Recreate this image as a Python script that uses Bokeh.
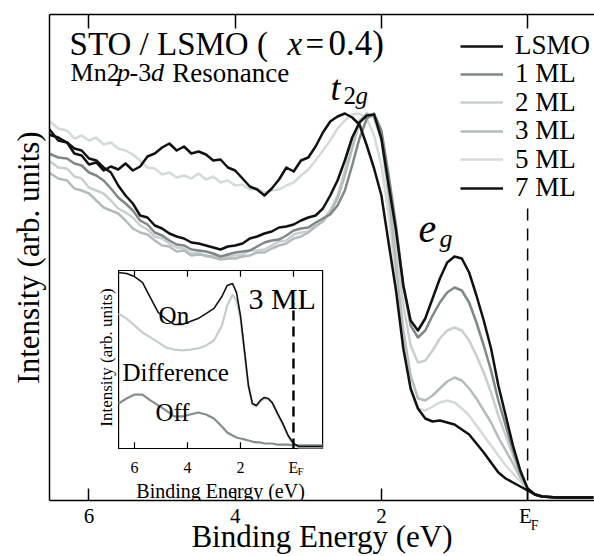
from bokeh.plotting import figure
from bokeh.models import Range1d, FixedTicker, LinearAxis, Label, Legend, LegendItem
from bokeh.core.properties import value
from bokeh.embed import file_html
from bokeh.resources import INLINE

# ---------------- data (main panel) ----------------
energy = [6.55, 6.42, 6.3, 6.2, 6.1, 6.0, 5.9, 5.8, 5.7, 5.6,
          5.5, 5.4, 5.3, 5.2, 5.1, 5.0, 4.9, 4.8, 4.7, 4.6,
          4.5, 4.4, 4.3, 4.2, 4.1, 4.0, 3.9, 3.8, 3.7, 3.6,
          3.5, 3.4, 3.3, 3.2, 3.1, 3.0, 2.9, 2.8, 2.7,
          2.6, 2.5, 2.4, 2.3, 2.2, 2.1, 2.0, 1.9, 1.8, 1.7,
          1.6, 1.5, 1.4, 1.3, 1.2, 1.1, 1.0, 0.9, 0.8, 0.7,
          0.6, 0.5, 0.4, 0.3, 0.2, 0.1, 0.0, -0.1, -0.2, -0.4,
          -0.6, -0.9]

lsmo = [3.66, 3.63, 3.58, 3.52, 3.50, 3.42, 3.40, 3.33, 3.28, 3.15,
        3.05, 2.97, 2.85, 2.83, 2.75, 2.72, 2.67, 2.64, 2.62, 2.58,
        2.57, 2.55, 2.53, 2.51, 2.54, 2.55, 2.57, 2.62, 2.64, 2.67,
        2.69, 2.73, 2.74, 2.76, 2.80, 2.83, 2.85, 2.92, 3.05,
        3.20, 3.40, 3.63, 3.78, 3.85, 3.86, 3.62, 3.15, 2.70, 2.15,
        1.80, 1.70, 1.82, 2.02, 2.22, 2.38, 2.44, 2.42, 2.28, 2.05,
        1.80, 1.52, 1.15, 0.85, 0.55, 0.30, 0.12, 0.06, 0.04, 0.03,
        0.03, 0.03]
ml1 = [3.47, 3.43, 3.42, 3.37, 3.35, 3.28, 3.25, 3.20, 3.12, 3.03,
       2.97, 2.90, 2.80, 2.76, 2.68, 2.65, 2.60, 2.56, 2.55, 2.51,
       2.50, 2.49, 2.47, 2.44, 2.46, 2.48, 2.49, 2.50, 2.54, 2.58,
       2.60, 2.61, 2.65, 2.70, 2.72, 2.73, 2.78, 2.82, 2.86,
       2.95, 3.10, 3.35, 3.62, 3.82, 3.87, 3.70, 3.25, 2.75, 2.15,
       1.75, 1.63, 1.70, 1.85, 1.98, 2.08, 2.13, 2.10, 1.98, 1.78,
       1.55, 1.30, 1.00, 0.75, 0.50, 0.28, 0.12, 0.06, 0.04, 0.03,
       0.03, 0.03]
ml2 = [3.40, 3.33, 3.32, 3.24, 3.22, 3.13, 3.10, 3.07, 3.00, 2.92,
       2.88, 2.83, 2.75, 2.71, 2.64, 2.62, 2.57, 2.53, 2.52, 2.47,
       2.48, 2.44, 2.45, 2.42, 2.44, 2.45, 2.46, 2.50, 2.50, 2.51,
       2.55, 2.59, 2.60, 2.66, 2.68, 2.69, 2.75, 2.81, 2.90,
       3.05, 3.30, 3.58, 3.80, 3.87, 3.84, 3.65, 3.15, 2.55, 1.95,
       1.55, 1.38, 1.40, 1.50, 1.62, 1.70, 1.73, 1.70, 1.60, 1.45,
       1.28, 1.08, 0.85, 0.65, 0.45, 0.26, 0.12, 0.06, 0.04, 0.03,
       0.03, 0.03]
ml3 = [3.28, 3.22, 3.20, 3.12, 3.10, 3.07, 3.00, 2.93, 2.90, 2.87,
       2.80, 2.72, 2.68, 2.66, 2.60, 2.55, 2.54, 2.49, 2.50, 2.45,
       2.46, 2.45, 2.43, 2.41, 2.42, 2.42, 2.44, 2.45, 2.48, 2.48,
       2.52, 2.55, 2.57, 2.62, 2.64, 2.68, 2.74, 2.79, 2.88,
       3.02, 3.25, 3.52, 3.78, 3.87, 3.83, 3.60, 3.05, 2.35, 1.70,
       1.25, 1.02, 1.00, 1.05, 1.12, 1.19, 1.23, 1.20, 1.12, 1.02,
       0.90, 0.78, 0.63, 0.50, 0.37, 0.23, 0.12, 0.06, 0.04, 0.03,
       0.03, 0.03]
ml5 = [3.80, 3.72, 3.70, 3.62, 3.65, 3.60, 3.63, 3.56, 3.58, 3.52,
       3.50, 3.46, 3.40, 3.33, 3.32, 3.26, 3.28, 3.23, 3.25, 3.22,
       3.27, 3.21, 3.24, 3.18, 3.20, 3.15, 3.16, 3.11, 3.12, 3.08,
       3.10, 3.11, 3.15, 3.18, 3.25, 3.31, 3.40, 3.50, 3.60,
       3.72, 3.80, 3.86, 3.87, 3.82, 3.65, 3.35, 2.85, 2.20, 1.55,
       1.10, 0.92, 0.90, 0.94, 0.98, 1.00, 0.98, 0.92, 0.85, 0.75,
       0.65, 0.55, 0.45, 0.35, 0.27, 0.19, 0.11, 0.06, 0.04, 0.03,
       0.03, 0.03]
ml7 = [3.72, 3.60, 3.58, 3.47, 3.45, 3.36, 3.38, 3.30, 3.34, 3.31,
       3.37, 3.30, 3.34, 3.44, 3.47, 3.53, 3.57, 3.50, 3.54, 3.47,
       3.49, 3.46, 3.40, 3.41, 3.33, 3.30, 3.22, 3.14, 3.11, 3.05,
       3.12, 3.21, 3.33, 3.29, 3.40, 3.43, 3.54, 3.68, 3.79,
       3.84, 3.87, 3.83, 3.76, 3.55, 3.32, 3.05, 2.57, 2.10, 1.52,
       1.12, 0.92, 0.82, 0.79, 0.80, 0.78, 0.76, 0.71, 0.66, 0.57,
       0.48, 0.38, 0.28, 0.22, 0.18, 0.14, 0.10, 0.06, 0.04, 0.03,
       0.03, 0.03]

series_labels = ["LSMO", "1 ML", "2 ML", "3 ML", "5 ML", "7 ML"]
series_values = [lsmo, ml1, ml2, ml3, ml5, ml7]
series_colors = ["#111111", "#7e8888", "#c9cfcf", "#b3bcbc", "#d4dada", "#111111"]
draw_order = [4, 2, 3, 1, 0, 5]

x_ticks = [6, 4, 2, 0]
x_tick_labels = {6: "6", 4: "4", 2: "2", 0: "E\u2009"}
fermi_tick = [0]
fermi_sub = {0: "\u2002\u2002F"}
fermi_x = [0, 0]
fermi_y = [0, 2.97]

# ---------------- data (inset, 3 ML) ----------------
inset_energy = [6.6, 6.3, 6.0, 5.7, 5.4, 5.1, 4.8, 4.5, 4.2, 3.9,
                3.6, 3.3, 3.0, 2.7, 2.5, 2.3, 2.15, 2.0, 1.85, 1.7,
                1.55, 1.4, 1.25, 1.1, 0.95, 0.8, 0.6, 0.4, 0.2, 0.0,
                -0.2, -0.5, -0.8, -1.1]
inset_on = [0.989, 0.983, 0.966, 0.933, 0.848, 0.764, 0.725, 0.697, 0.697, 0.713,
            0.730, 0.758, 0.787, 0.854, 0.916, 0.927, 0.876, 0.747, 0.551, 0.354,
            0.253, 0.242, 0.270, 0.287, 0.281, 0.258, 0.197, 0.140, 0.073, 0.028,
            0.011, 0.011, 0.011, 0.011]
inset_diff = [0.758, 0.730, 0.691, 0.652, 0.624, 0.596, 0.567, 0.556, 0.551, 0.556,
              0.562, 0.579, 0.607, 0.691, 0.803, 0.865, 0.831, 0.730, 0.539, 0.348,
              0.247, 0.236, 0.264, 0.281, 0.275, 0.253, 0.191, 0.135, 0.067, 0.022,
              0.006, 0.006, 0.006, 0.006]
inset_off = [0.253, 0.281, 0.303, 0.303, 0.270, 0.242, 0.213, 0.180, 0.180, 0.191,
             0.202, 0.191, 0.169, 0.124, 0.090, 0.073, 0.062, 0.056, 0.051, 0.045,
             0.039, 0.034, 0.034, 0.028, 0.028, 0.028, 0.022, 0.022, 0.022, 0.017,
             0.017, 0.017, 0.017, 0.017]
inset_ticks = [6, 4, 2, 0]
inset_tick_labels = ["6", "4", "2", "E"]
inset_fermi_y = [0, 0.815]

SERIF = "Liberation Serif"

# ---------------- main figure ----------------
p = figure(width=594, height=556, output_backend="svg", toolbar_location=None,
           x_range=Range1d(6.54, -0.915), y_range=Range1d(0, 4.86),
           min_border_left=49, min_border_right=0, min_border_top=14, min_border_bottom=56)
p.outline_line_color = None
p.xgrid.visible = False
p.ygrid.visible = False
p.background_fill_color = "white"
p.border_fill_color = "white"

xa = p.xaxis[0]
xa.ticker = FixedTicker(ticks=x_ticks, minor_ticks=[])
xa.major_label_overrides = x_tick_labels
xa.major_tick_in = 12
xa.major_tick_out = 0
xa.minor_tick_in = 0
xa.minor_tick_out = 0
xa.major_tick_line_width = 1.5
xa.axis_line_width = 1.5
xa.major_label_text_font = SERIF
xa.major_label_text_font_size = "21px"
xa.major_label_text_color = "black"
xa.major_label_standoff = 3
xa.axis_label = "Binding Energy (eV)"
xa.axis_label_text_font = SERIF
xa.axis_label_text_font_size = "31px"
xa.axis_label_text_font_style = "normal"
xa.axis_label_text_color = "black"
xa.axis_label_standoff = -12

# second (label-only) axis that carries the subscript F of E_F
sub_axis = LinearAxis(ticker=FixedTicker(ticks=fermi_tick, minor_ticks=[]),
                      major_label_overrides=fermi_sub,
                      major_label_text_font=SERIF, major_label_text_font_size="14px",
                      major_label_text_color="black", major_label_standoff=-39,
                      axis_line_color=None, major_tick_line_color=None,
                      minor_tick_line_color=None, major_tick_in=0, major_tick_out=0)
p.add_layout(sub_axis, "below")

ya = p.yaxis[0]
ya.ticker = FixedTicker(ticks=[], minor_ticks=[])
ya.major_label_text_font_size = "0px"
ya.major_label_standoff = 0
ya.major_tick_out = 0
ya.axis_line_width = 1.5
ya.axis_label = "Intensity (arb. units)"
ya.axis_label_text_font = SERIF
ya.axis_label_text_font_size = "31px"
ya.axis_label_text_font_style = "normal"
ya.axis_label_text_color = "black"
ya.axis_label_standoff = 4

top_axis = LinearAxis(ticker=FixedTicker(ticks=x_ticks, minor_ticks=[]),
                      major_label_overrides={t: "" for t in x_ticks},
                      major_label_text_font_size="0px", major_label_standoff=0,
                      major_tick_in=14, major_tick_out=0, minor_tick_in=0, minor_tick_out=0,
                      axis_line_width=1.5, major_tick_line_width=1.5)
p.add_layout(top_axis, "above")

# curves
renderers = {}
for i in draw_order:
    r = p.line(energy, series_values[i], line_color=series_colors[i], line_width=2.5,
               line_join="round")
    renderers[i] = r

# Fermi level dashed line
p.line(fermi_x, fermi_y, line_color="black", line_width=1.5, line_dash="12 8")

# legend: one single-row legend per series so the row pitch is exact
row_pitch = 28.4
first_row = 439
for i, lab in enumerate(series_labels):
    lg = Legend(items=[LegendItem(label=lab, renderers=[renderers[i]])],
                location=(411, first_row - i * row_pitch), orientation="vertical",
                label_text_font=SERIF, label_text_font_size="27px", label_text_color="black",
                glyph_width=43, glyph_height=20, label_standoff=12, label_height=20,
                spacing=0, padding=0, margin=0,
                background_fill_alpha=0, border_line_color=None)
    p.add_layout(lg)

# title and annotations
def add_label(x, y, text, size, style="normal"):
    p.add_layout(Label(x=x, y=y, text=text, text_font=SERIF, text_font_size=size,
                       text_font_style=style, text_baseline="alphabetic",
                       text_align="left", text_color="black"))

add_label(6.265, 4.57, "STO / LSMO (", "33px")
add_label(3.283, 4.57, "x", "33px", "italic")
add_label(3.037, 4.57, "=", "33px")
add_label(2.722, 4.57, "0.4)", "35px")
add_label(6.252, 4.28, "Mn2", "26px")
add_label(5.615, 4.28, "p", "26px", "italic")
add_label(5.445, 4.28, "-3", "26px")
add_label(5.150, 4.28, "d", "26px", "italic")
add_label(4.860, 4.28, "Resonance", "27px")
add_label(2.695, 4.13, "t", "36px", "italic")
add_label(2.517, 4.05, "2", "25px")
add_label(2.353, 4.05, "g", "25px", "italic")
add_label(1.491, 2.72, "e", "40px", "italic")
add_label(1.204, 2.62, "g", "26px", "italic")

# ---------------- inset (sub-coordinates) ----------------
ix = Range1d(6.6, -1.1)
iy = Range1d(0, 1)
inset = p.subplot(x_source=ix, y_source=iy,
                  x_target=Range1d(5.595, 2.804), y_target=Range1d(0.52, 2.30))
inset.quad(left=[ix.start], right=[ix.end], bottom=[iy.start], top=[iy.end],
           fill_color="white", line_color="black", line_width=1.2)
inset.segment(x0=inset_ticks, y0=[0] * 4, x1=inset_ticks, y1=[0.035] * 4,
              line_color="black", line_width=1.2)
inset.segment(x0=inset_ticks, y0=[1] * 4, x1=inset_ticks, y1=[0.965] * 4,
              line_color="black", line_width=1.2)
inset.line(inset_energy, inset_off, line_color="#858d8d", line_width=2.2)
inset.line(inset_energy, inset_diff, line_color="#c6cccc", line_width=2.2)
inset.line(inset_energy, inset_on, line_color="#111111", line_width=1.6)
inset.line([0, 0], inset_fermi_y, line_color="black", line_width=2.4, line_dash="10 6")

inset.text(x=inset_ticks, y=[-0.107] * 4, text=inset_tick_labels,
           text_font=value(SERIF), text_font_size="16px", text_align="center",
           text_baseline="alphabetic", text_color="black")
inset.text(x=[-0.15], y=[-0.125], text=["F"], text_font=value(SERIF),
           text_font_size="11px", text_align="left", text_baseline="alphabetic",
           text_color="black")
inset.text(x=[2.75], y=[-0.236], text=["Binding Energy (eV)"], text_font=value(SERIF),
           text_font_size="20px", text_align="center", text_baseline="alphabetic",
           text_color="black")
inset.text(x=[7.06], y=[0.511], text=["Intensity (arb. units)"], text_font=value(SERIF),
           text_font_size="17px", text_align="center", text_baseline="middle",
           angle=1.5708, text_color="black")
inset.text(x=[5.09, 6.45, 5.21], y=[0.747, 0.427, 0.202], text=["On", "Difference", "Off"],
           text_font=value(SERIF), text_font_size="25px", text_align="left",
           text_baseline="alphabetic", text_color="black")
inset.text(x=[1.70], y=[0.843], text=["3 ML"], text_font=value(SERIF),
           text_font_size="30px", text_align="left", text_baseline="alphabetic",
           text_color="black")

open("out.html", "w").write(file_html(p, INLINE))
